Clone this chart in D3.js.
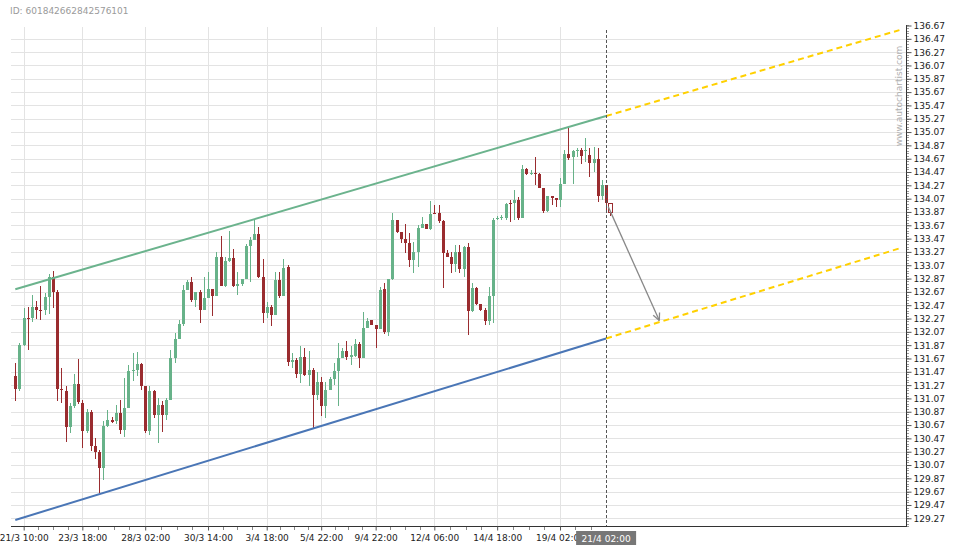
<!DOCTYPE html>
<html><head><meta charset="utf-8">
<script src="https://cdn.jsdelivr.net/npm/d3@7/dist/d3.min.js"></script>
<style>
body{margin:0;background:#fff}
svg{display:block;font-family:"DejaVu Sans",sans-serif}
</style>
</head><body>
<svg id="chart" width="960" height="550"></svg>
<script>
// ---------------- data ----------------
const chartId = "ID: 601842662842576101";
const watermark = "www.autochartist.com";

const opens = [131.41,131.215,131.875,132.285,132.275,132.44,132.40,132.40,132.60,132.89,
132.675,131.21,131.185,130.635,130.95,131.29,131.00,130.575,130.865,130.35,
130.26,130.02,130.65,130.74,130.725,130.85,130.60,130.925,131.475,131.50,
131.59,131.25,130.585,131.175,130.825,130.975,130.815,131.05,131.675,131.965,
132.19,132.70,132.815,132.55,132.675,132.40,132.575,132.71,132.61,133.20,
132.765,133.14,133.185,132.765,132.79,132.86,133.36,133.45,133.54,132.90,
132.36,132.44,132.33,132.85,132.615,133.05,131.61,131.65,131.44,131.685,
131.415,131.49,131.115,131.31,130.95,131.20,131.365,131.485,131.68,131.785,
131.685,131.70,131.89,131.675,132.135,132.25,132.175,132.11,132.72,132.075,
132.865,133.75,133.575,133.46,133.41,133.15,133.275,133.63,133.69,133.61,
133.86,133.86,133.735,133.26,133.20,133.09,133.275,133.015,133.35,132.39,
132.725,132.49,132.40,132.24,132.61,133.76,133.78,133.775,134.01,134.00,
134.05,133.785,134.51,134.44,134.46,134.44,134.225,133.89,134.11,134.085,
134.05,134.285,134.74,134.69,134.785,134.80,134.79,134.725,134.61,134.66,
134.11,134.275,134.00];
const highs = [131.60,131.90,132.435,132.45,132.625,132.54,132.765,132.65,132.935,132.99,
132.70,131.525,131.25,131.00,131.435,131.66,131.04,130.91,130.90,130.475,
130.30,130.725,130.89,130.79,130.975,131.04,131.375,131.575,131.75,131.76,
131.60,131.25,131.25,131.20,131.075,131.025,131.075,131.80,132.05,132.25,
132.775,132.85,132.89,132.675,132.70,132.89,132.975,132.71,133.265,133.51,
133.19,133.59,133.31,132.975,132.86,133.39,133.50,133.75,133.65,133.16,
132.525,132.475,132.975,132.975,133.16,133.075,131.75,131.675,131.85,131.825,
131.775,131.525,131.46,131.385,131.31,131.39,131.60,131.90,131.825,131.935,
131.85,131.96,131.91,132.375,132.275,132.25,132.175,132.74,132.80,132.865,
133.86,133.75,133.575,133.69,133.55,133.425,133.675,133.80,133.69,134.04,
133.975,133.975,133.75,133.30,133.275,133.375,133.375,133.36,133.40,132.80,
132.74,132.49,132.425,132.74,133.775,133.81,133.825,134.00,134.05,134.20,
134.10,134.575,134.525,134.50,134.70,134.45,134.225,134.11,134.11,134.085,
134.375,134.80,135.125,134.80,134.825,134.825,134.975,134.825,134.85,134.825,
134.35,134.275,134.00];
const lows = [131.025,131.175,131.86,131.79,132.225,132.26,132.25,132.325,132.34,132.425,
131.025,131.00,130.41,130.55,130.925,130.99,130.325,130.55,130.275,130.16,
129.65,129.85,130.64,130.70,130.69,130.54,130.49,130.92,131.325,131.40,
131.20,130.55,130.525,130.775,130.40,130.56,130.75,131.05,131.60,131.96,
132.16,132.70,132.525,132.45,132.20,132.40,132.575,132.315,132.61,132.765,
132.75,133.125,132.75,132.625,132.76,132.86,132.815,133.45,132.875,132.20,
132.275,132.165,132.33,132.585,132.615,131.55,131.525,131.375,131.30,131.40,
131.25,130.625,131.05,130.80,130.775,131.20,131.275,130.95,131.68,131.64,
131.575,131.685,131.525,131.675,132.135,132.175,131.825,132.11,132.04,132.00,
132.85,133.56,133.40,133.25,133.04,132.96,133.04,133.63,133.61,133.60,
133.84,133.70,132.725,133.20,132.95,132.975,132.95,132.89,132.025,132.375,
132.475,132.39,132.175,132.175,132.20,133.75,133.75,133.75,133.725,133.75,
133.75,133.775,134.425,134.425,134.275,134.225,133.85,133.875,133.975,133.95,
133.95,134.285,134.65,134.29,134.70,134.59,134.625,134.40,134.475,134.025,
134.05,133.90,133.81];
const closes = [131.215,131.875,132.275,132.265,132.44,132.405,132.39,132.59,132.89,132.675,
131.21,131.19,130.635,130.95,131.29,131.01,130.575,130.865,130.35,130.26,
130.02,130.65,130.75,130.72,130.85,130.60,130.925,131.475,131.50,131.59,
131.25,130.585,131.175,130.825,130.975,130.815,131.05,131.675,131.965,132.19,
132.70,132.815,132.55,132.675,132.40,132.575,132.71,132.61,133.20,132.765,
133.14,133.175,132.765,132.79,132.86,133.36,133.45,133.54,132.90,132.36,
132.44,132.33,132.85,132.615,133.025,131.61,131.65,131.44,131.685,131.415,
131.49,131.115,131.31,130.95,131.20,131.365,131.485,131.68,131.785,131.685,
131.715,131.89,131.675,132.135,132.24,132.175,132.11,132.70,132.075,132.865,
133.75,133.575,133.46,133.41,133.15,133.275,133.63,133.69,133.61,133.84,
133.84,133.735,133.26,133.20,133.09,133.275,133.015,133.35,132.39,132.725,
132.49,132.40,132.24,132.61,133.75,133.785,133.80,133.99,133.99,134.05,
133.785,134.51,134.44,134.46,134.44,134.235,133.89,134.11,134.085,134.05,
134.285,134.74,134.685,134.79,134.80,134.715,134.80,134.61,134.66,134.11,
134.275,134.01,133.865];
const formingCandle = 142;

// channel lines (candle index, price)
const resistanceLine = [[0,132.71],[141,135.31]];
const supportLine    = [[0,129.245],[141,131.97]];
const projectionEnd = 211;
const forecastArrow = [[141.5,133.95],[153.7,132.24]];
const patternEndIndex = 141;

const yTickLabels = ["129.27","129.47","129.67","129.87","130.07","130.27","130.47","130.67","130.87","131.07",
"131.27","131.47","131.67","131.87","132.07","132.27","132.47","132.67","132.87","133.07",
"133.27","133.47","133.67","133.87","134.07","134.27","134.47","134.67","134.87","135.07",
"135.27","135.47","135.67","135.87","136.07","136.27","136.47","136.67"];
const xTickIndex  = [2,16,31,46,60,73,86,100,115,130];
const xTickLabels = ["21/3 10:00","23/3 18:00","28/3 02:00","30/3 14:00","3/4 18:00","5/4 22:00","9/4 22:00","12/4 06:00","14/4 18:00","19/4 02:00"];
const markerLabel = "21/4 02:00";

// ---------------- drawing ----------------
const svg = d3.select("#chart");
const P = {left:11, right:906, top:27, bottom:526.5};
const GREEN="#67b289", RED="#9a2c2f", GRID="#e3e3e3";

const x = d3.scaleLinear().domain([0,142]).range([15.3,610.3]);
const y = d3.scaleLinear().domain([129.27,136.67]).range([518.3,25.5]);
const r = v => Math.round(v)+0.5;

svg.append("text").attr("x",10).attr("y",13.5).attr("fill","#9a9a9a")
  .attr("font-size","9px").text(chartId);

// grid
const gy = svg.append("g");
yTickLabels.forEach(t=>{
  const yy=y(+t);
  if(yy<P.top||yy>P.bottom) return;
  gy.append("line").attr("x1",P.left).attr("x2",P.right).attr("y1",r(yy)).attr("y2",r(yy))
    .attr("stroke",GRID).attr("stroke-width",1);
});
xTickIndex.forEach(i=>{
  gy.append("line").attr("x1",r(x(i))).attr("x2",r(x(i))).attr("y1",P.top).attr("y2",P.bottom)
    .attr("stroke",GRID).attr("stroke-width",1);
});

// watermark
svg.append("text").attr("transform","translate(902,96) rotate(-90)")
  .attr("text-anchor","middle").attr("font-size","9px").attr("fill","#b0b0b0").text(watermark);

// candles
const data = opens.map((o,i)=>({i,o,h:highs[i],l:lows[i],c:closes[i]}));
const bw = 3.4;
const gc = svg.append("g").attr("shape-rendering","crispEdges");
data.forEach(d=>{
  const up = d.c>=d.o;
  const col = up?GREEN:RED;
  const cx = Math.round(x(d.i));
  gc.append("line").attr("x1",cx+0.5).attr("x2",cx+0.5).attr("y1",y(d.h)).attr("y2",y(d.l))
    .attr("stroke",col).attr("stroke-width",1);
  const top=y(Math.max(d.o,d.c)), bot=y(Math.min(d.o,d.c));
  const hgt=Math.max(1.2,bot-top);
  if(d.i===formingCandle){
    gc.append("rect").attr("x",cx-1.5).attr("y",top).attr("width",bw+0.6).attr("height",hgt)
      .attr("fill","#fff").attr("stroke",RED).attr("stroke-width",1);
  } else {
    gc.append("rect").attr("x",cx+0.5-bw/2).attr("y",top).attr("width",bw).attr("height",hgt)
      .attr("fill",col);
  }
});

// channel lines
const line = d3.line().x(d=>x(d[0])).y(d=>y(d[1]));
const extend = (pts,end)=>{
  const [a,b]=pts; const s=(b[1]-a[1])/(b[0]-a[0]);
  return [b,[end,b[1]+s*(end-b[0])]];
};
svg.append("path").attr("d",line(resistanceLine)).attr("fill","none").attr("stroke","#6bb38d").attr("stroke-width",2);
svg.append("path").attr("d",line(supportLine)).attr("fill","none").attr("stroke","#4a76b6").attr("stroke-width",2);
[resistanceLine,supportLine].forEach(pts=>{
  svg.append("path").attr("d",line(extend(pts,projectionEnd))).attr("fill","none")
    .attr("stroke","#ffd000").attr("stroke-width",2).attr("stroke-dasharray","6,4");
});

// vertical dashed marker
const mx = r(x(patternEndIndex));
svg.append("line").attr("x1",mx).attr("x2",mx).attr("y1",30).attr("y2",P.bottom)
  .attr("stroke","#555").attr("stroke-width",1).attr("stroke-dasharray","3,2");

// forecast arrow
const [a0,a1]=forecastArrow;
const ax0=x(a0[0]), ay0=y(a0[1]), ax1=x(a1[0]), ay1=y(a1[1]);
svg.append("line").attr("x1",ax0).attr("y1",ay0).attr("x2",ax1).attr("y2",ay1)
  .attr("stroke","#888").attr("stroke-width",1.3);
const ang=Math.atan2(ay1-ay0,ax1-ax0);
[-0.45,0.45].forEach(da=>{
  svg.append("line").attr("x1",ax1).attr("y1",ay1)
    .attr("x2",ax1-8*Math.cos(ang+da)).attr("y2",ay1-8*Math.sin(ang+da))
    .attr("stroke","#888").attr("stroke-width",1.3);
});

// right axis
const ga = svg.append("g").attr("shape-rendering","crispEdges");
ga.append("line").attr("x1",P.right+0.5).attr("x2",P.right+0.5).attr("y1",25).attr("y2",P.bottom)
  .attr("stroke","#333");
d3.range(129.15,136.72,0.04).forEach(v=>{
  const yy=y(v); if(yy<25||yy>P.bottom) return;
  ga.append("line").attr("x1",P.right+1).attr("x2",P.right+3).attr("y1",r(yy)).attr("y2",r(yy))
    .attr("stroke","#999");
});
const yAxis = d3.axisRight(y).tickValues(yTickLabels.map(Number)).tickFormat((d,i)=>yTickLabels[i])
  .tickSize(5).tickPadding(2).tickSizeOuter(0);
const yg = svg.append("g").attr("transform",`translate(${P.right+0.5},0)`).call(yAxis);
yg.select(".domain").remove();
yg.selectAll("line").attr("stroke","#555");
yg.selectAll("text").attr("font-size","9px").attr("fill","#222").attr("font-family","DejaVu Sans");

// bottom axis
ga.append("line").attr("x1",P.left).attr("x2",P.right+1).attr("y1",P.bottom).attr("y2",P.bottom)
  .attr("stroke","#333");
for(let k=0;k<xTickIndex.length;k++){
  const a=x(xTickIndex[k]);
  const b = k<xTickIndex.length-1 ? x(xTickIndex[k+1]) : x(patternEndIndex);
  const n = k<xTickIndex.length-1 ? 4 : 3;
  for(let j=1;j<n;j++){
    const xx=r(a+(b-a)*j/n);
    ga.append("line").attr("x1",xx).attr("x2",xx).attr("y1",P.bottom).attr("y2",P.bottom+3).attr("stroke","#888");
  }
}
const xAxis = d3.axisBottom(x).tickValues(xTickIndex).tickFormat((d,i)=>xTickLabels[i])
  .tickSize(4).tickPadding(4).tickSizeOuter(0);
const xg = svg.append("g").attr("transform",`translate(0,${P.bottom})`).call(xAxis);
xg.select(".domain").remove();
xg.selectAll("line").attr("stroke","#555");
xg.selectAll("text").attr("font-size","9px").attr("fill","#222").attr("font-family","DejaVu Sans");

// marker label
const lw=60;
svg.append("rect").attr("x",x(patternEndIndex)-lw/2).attr("y",531).attr("width",lw).attr("height",14)
  .attr("fill","#777");
svg.append("text").attr("x",x(patternEndIndex)).attr("y",541.5).attr("text-anchor","middle")
  .attr("font-size","9px").attr("fill","#fff").text(markerLabel);
</script>
</body></html>
